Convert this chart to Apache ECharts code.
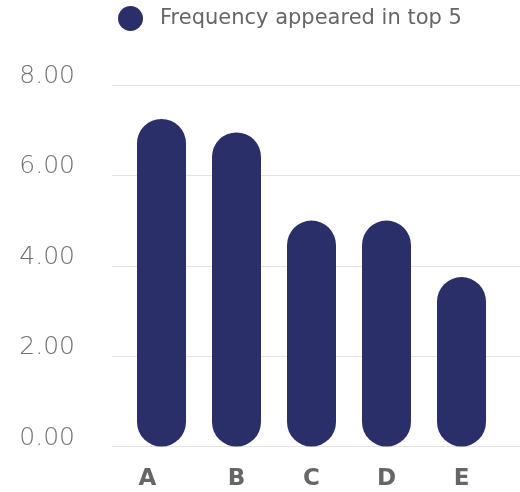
<!DOCTYPE html>
<html>
<head>
<meta charset="utf-8">
<style>
  html, body { margin: 0; padding: 0; background: #ffffff; }
  #chart { width: 520px; height: 492px; }
</style>
<script src="https://cdn.jsdelivr.net/npm/echarts@6/dist/echarts.min.js"></script>
</head>
<body>
<div id="chart"></div>
<script>
// Categories and how often each appeared in the top 5
const categories = ['A', 'B', 'C', 'D', 'E'];
const frequency = [7.25, 6.95, 5, 5, 3.75];
const seriesName = 'Frequency appeared in top 5';
const yMin = 0, yMax = 8, yStep = 2;

const barColor = '#2a2f69';
const textFont = '"DejaVu Sans", sans-serif';

const chart = echarts.init(document.getElementById('chart'), null, { renderer: 'canvas' });

chart.setOption({
  animation: false,
  legend: {
    data: [{ name: seriesName, icon: 'circle' }],
    left: 118,
    top: 6,
    padding: 0,
    itemWidth: 25,
    itemHeight: 25,
    textStyle: {
      color: '#666666',
      fontSize: 21,
      fontFamily: textFont,
      fontWeight: 'normal',
      padding: [0, 0, 0, 12]
    }
  },
  grid: [
    // full-width grid carrying the horizontal guide lines
    { left: 112, right: 0, top: 85, bottom: 45.5 },
    // narrower grid that holds the bars
    { left: 124, right: 21, top: 85, bottom: 45.5 }
  ],
  xAxis: [
    { gridIndex: 0, type: 'category', data: categories, show: false },
    {
      gridIndex: 1,
      type: 'category',
      data: categories.map((c, i) => i === 0
        ? { value: c, textStyle: { padding: [0, 28, 0, 0] } }
        : c),
      axisLine: { show: false },
      axisTick: { show: false },
      axisLabel: {
        color: '#666666',
        fontSize: 23,
        fontWeight: 'bold',
        fontFamily: textFont,
        margin: 21
      }
    }
  ],
  yAxis: [
    {
      gridIndex: 0,
      type: 'value',
      min: yMin,
      max: yMax,
      interval: yStep,
      axisLine: { show: false },
      axisTick: { show: false },
      splitLine: { lineStyle: { color: '#e3e3e3', width: 1 } },
      axisLabel: {
        color: '#707070',
        fontSize: 25,
        fontWeight: 200,
        fontFamily: textFont,
        margin: 37,
        verticalAlign: 'bottom',
        padding: [0, 0, -4, 0],
        formatter: v => v.toFixed(2)
      }
    },
    {
      gridIndex: 1,
      type: 'value',
      min: yMin,
      max: yMax,
      interval: yStep,
      show: false
    }
  ],
  series: [
    {
      name: seriesName,
      type: 'bar',
      xAxisIndex: 1,
      yAxisIndex: 1,
      data: frequency,
      barWidth: 49,
      itemStyle: { color: barColor, borderRadius: 24.5 }
    }
  ]
});
</script>
</body>
</html>
